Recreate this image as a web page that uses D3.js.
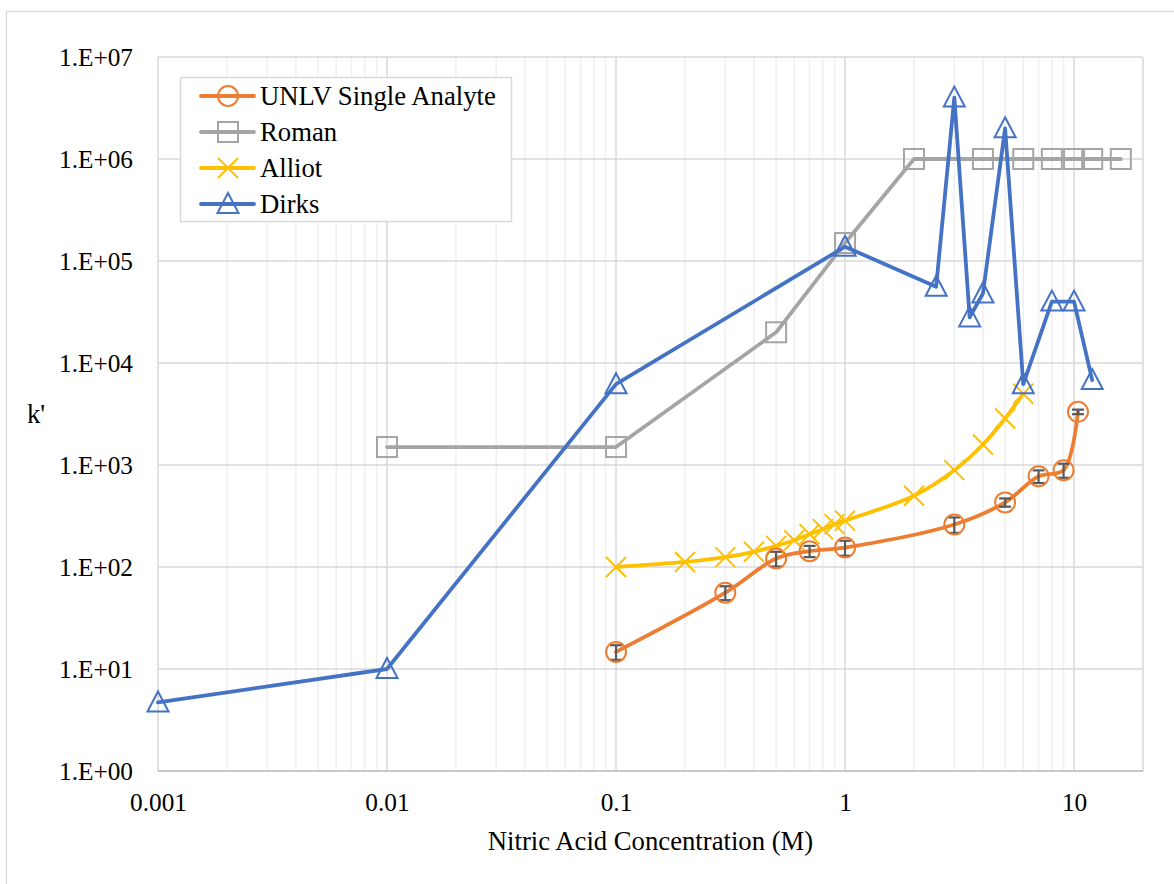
<!DOCTYPE html>
<html>
<head>
<meta charset="utf-8">
<script src="https://cdn.jsdelivr.net/npm/d3@7"></script>
<style>
  html, body { margin: 0; padding: 0; background: #fff; }
</style>
</head>
<body>
<div id="chart"></div>
<script>
// chart values

const xTicks = [0.001, 0.01, 0.1, 1, 10];
const xTickLabels = ["0.001", "0.01", "0.1", "1", "10"];
const yTicks = [1, 10, 100, 1e3, 1e4, 1e5, 1e6, 1e7];
const yTickLabels = ["1.E+00", "1.E+01", "1.E+02", "1.E+03", "1.E+04", "1.E+05", "1.E+06", "1.E+07"];

const seriesNames = ["UNLV Single Analyte", "Roman", "Alliot", "Dirks"];

// UNLV Single Analyte (with error bars)
const unlvX = [0.1, 0.3, 0.5, 0.7, 1, 3, 5, 7, 9, 10.4];
const unlvY = [14.7, 56, 121, 143, 155, 261, 430, 776, 889, 3320];
const unlvErr = [2.4, 8.7, 20, 18, 26, 45, 40, 110, 140, 170];

// Roman
const romanX = [0.01, 0.1, 0.5, 1, 2, 4, 6, 8, 10, 12, 16];
const romanY = [1500, 1500, 2.0e4, 1.5e5, 1e6, 1e6, 1e6, 1e6, 1e6, 1e6, 1e6];

// Alliot
const alliotX = [0.1, 0.2, 0.3, 0.4, 0.5, 0.6, 0.7, 0.8, 0.9, 1, 2, 3, 4, 5, 6];
const alliotY = [100, 112, 125, 141, 161, 183, 210, 235, 263, 285, 500, 890, 1590, 2860, 5000];

// Dirks
const dirksX = [0.001, 0.01, 0.1, 1, 2.5, 3, 3.5, 4, 5, 6, 8, 10, 12];
const dirksY = [4.7, 10, 6200, 1.38e5, 5.6e4, 4.0e6, 2.8e4, 4.8e4, 2.0e6, 6200, 4.0e4, 4.0e4, 6800];

const FONT = "'Liberation Serif', 'Times New Roman', serif";
const width = 1174, height = 884;
const plot = {left: 158, right: 1143, top: 57, bottom: 771};

const svg = d3.select("#chart")
    .append("svg")
    .attr("width", width)
    .attr("height", height);

// outer chart frame (runs off the picture on the right and bottom)
svg.append("rect")
    .attr("x", 6.5).attr("y", 11.5)
    .attr("width", width + 20).attr("height", height + 20)
    .attr("fill", "#fff")
    .attr("stroke", "#D9D9D9")
    .attr("stroke-width", 1.3);

const xScale = d3.scaleLog()
    .domain([0.001, 20])
    .range([plot.left, plot.right]);
const yScale = d3.scaleLog()
    .domain([1, 1e7])
    .range([plot.bottom, plot.top]);

/* grid lines */
const minorX = [];
xTicks.slice(0, 4).forEach(d => {
    for (let m = 2; m <= 9; m++) minorX.push(d * m);
});

const grid = svg.append("g").attr("class", "grid");
grid.selectAll("line.minor")
    .data(minorX)
    .join("line")
    .attr("class", "minor")
    .attr("x1", d => xScale(d)).attr("x2", d => xScale(d))
    .attr("y1", plot.top).attr("y2", plot.bottom)
    .attr("stroke", "#EFEFEF")
    .attr("stroke-width", 1.5);

grid.selectAll("line.majorx")
    .data(xTicks)
    .join("line")
    .attr("class", "majorx")
    .attr("x1", d => xScale(d)).attr("x2", d => xScale(d))
    .attr("y1", plot.top).attr("y2", plot.bottom)
    .attr("stroke", "#D9D9D9")
    .attr("stroke-width", 1.5);

grid.selectAll("line.majory")
    .data(yTicks)
    .join("line")
    .attr("class", "majory")
    .attr("x1", plot.left).attr("x2", plot.right)
    .attr("y1", d => yScale(d)).attr("y2", d => yScale(d))
    .attr("stroke", "#D9D9D9")
    .attr("stroke-width", 1.5);

// right edge of the plot area
grid.append("line")
    .attr("x1", plot.right).attr("x2", plot.right)
    .attr("y1", plot.top).attr("y2", plot.bottom)
    .attr("stroke", "#D9D9D9")
    .attr("stroke-width", 1.5);

// bottom axis line
svg.append("line")
    .attr("x1", plot.left).attr("x2", plot.right)
    .attr("y1", plot.bottom).attr("y2", plot.bottom)
    .attr("stroke", "#BFBFBF")
    .attr("stroke-width", 1.5);

/* axes labels */
const xAxis = d3.axisBottom(xScale)
    .tickValues(xTicks)
    .tickFormat((d, i) => xTickLabels[i])
    .tickSize(0)
    .tickPadding(22);
const xGroup = svg.append("g")
    .attr("transform", `translate(0,${plot.bottom})`)
    .call(xAxis)
    .attr("font-family", FONT)
    .attr("font-size", 25.3);
xGroup.select(".domain").remove();
xGroup.selectAll("text").attr("fill", "#000");

const yAxis = d3.axisLeft(yScale)
    .tickValues(yTicks)
    .tickFormat((d, i) => yTickLabels[i])
    .tickSize(0)
    .tickPadding(25);
const yGroup = svg.append("g")
    .attr("transform", `translate(${plot.left},0)`)
    .call(yAxis)
    .attr("font-family", FONT)
    .attr("font-size", 25.3);
yGroup.select(".domain").remove();
yGroup.selectAll("text").attr("fill", "#000");

svg.append("text")
    .attr("x", (plot.left + plot.right) / 2)
    .attr("y", 850)
    .attr("text-anchor", "middle")
    .attr("font-family", FONT)
    .attr("font-size", 26.7)
    .text("Nitric Acid Concentration (M)");

svg.append("text")
    .attr("x", 27)
    .attr("y", 423)
    .attr("font-family", FONT)
    .attr("font-size", 26.7)
    .text("k'");

/* series */
const colors = ["#ED7D31", "#A5A5A5", "#FFC000", "#4472C4"];
const markers = ["circle", "square", "cross", "triangle"];

const pts = (xs, ys) => xs.map((x, i) => ({x: x, y: ys[i]}));
const series = [
    {name: seriesNames[0], data: pts(unlvX, unlvY), curve: d3.curveCatmullRom.alpha(0.5)},
    {name: seriesNames[1], data: pts(romanX, romanY), curve: d3.curveLinear},
    {name: seriesNames[2], data: pts(alliotX, alliotY), curve: d3.curveCatmullRom.alpha(0.5)},
    {name: seriesNames[3], data: pts(dirksX, dirksY), curve: d3.curveLinear}
];

const drawMarker = (g, type, color) => {
    if (type === "circle") {
        g.append("circle").attr("r", 10)
            .attr("fill", "none").attr("stroke", color).attr("stroke-width", 2);
    } else if (type === "square") {
        g.append("rect").attr("x", -10).attr("y", -10).attr("width", 20).attr("height", 20)
            .attr("fill", "none").attr("stroke", color).attr("stroke-width", 2);
    } else if (type === "cross") {
        g.append("path").attr("d", "M-10,-10L10,10M-10,10L10,-10")
            .attr("fill", "none").attr("stroke", color).attr("stroke-width", 2);
    } else {
        g.append("path").attr("d", "M0,-11L10.5,9L-10.5,9Z")
            .attr("fill", "none").attr("stroke", color).attr("stroke-width", 2);
    }
};

// draw order so Dirks sits on top like the original
const order = [1, 2, 0, 3];
order.forEach(si => {
    const s = series[si];
    const line = d3.line()
        .curve(s.curve)
        .x(d => xScale(d.x))
        .y(d => yScale(d.y));
    const g = svg.append("g").attr("class", "series");
    g.append("path")
        .attr("d", line(s.data))
        .attr("fill", "none")
        .attr("stroke", colors[si])
        .attr("stroke-width", 3.8)
        .attr("stroke-linejoin", "round")
        .attr("stroke-linecap", "round");

    if (si === 0) {
        // error bars
        const eb = g.append("g").attr("class", "errorbars");
        s.data.forEach((d, i) => {
            const cx = xScale(d.x);
            const y0 = yScale(d.y + unlvErr[i]);
            const y1 = yScale(d.y - unlvErr[i]);
            eb.append("line").attr("x1", cx).attr("x2", cx).attr("y1", y0).attr("y2", y1);
            eb.append("line").attr("x1", cx - 6).attr("x2", cx + 6).attr("y1", y0).attr("y2", y0);
            eb.append("line").attr("x1", cx - 6).attr("x2", cx + 6).attr("y1", y1).attr("y2", y1);
        });
        eb.selectAll("line").attr("stroke", "#595959").attr("stroke-width", 2.2);
    }

    s.data.forEach(d => {
        const m = g.append("g").attr("transform", `translate(${xScale(d.x)},${yScale(d.y)})`);
        drawMarker(m, markers[si], colors[si]);
    });
});

/* legend */
const legend = svg.append("g").attr("class", "legend");
legend.append("rect")
    .attr("x", 180.5).attr("y", 77.5)
    .attr("width", 331).attr("height", 144)
    .attr("fill", "#fff")
    .attr("stroke", "#D9D9D9")
    .attr("stroke-width", 1.5);

seriesNames.forEach((name, i) => {
    const cy = 96 + i * 36;
    const row = legend.append("g");
    row.append("line")
        .attr("x1", 201).attr("x2", 254)
        .attr("y1", cy).attr("y2", cy)
        .attr("stroke", colors[i])
        .attr("stroke-width", 3.8)
        .attr("stroke-linecap", "round");
    const m = row.append("g").attr("transform", `translate(228,${cy})`);
    drawMarker(m, markers[i], colors[i]);
    row.append("text")
        .attr("x", 260)
        .attr("y", cy + 9)
        .attr("font-family", FONT)
        .attr("font-size", 26.7)
        .text(name);
});
</script>
</body>
</html>
